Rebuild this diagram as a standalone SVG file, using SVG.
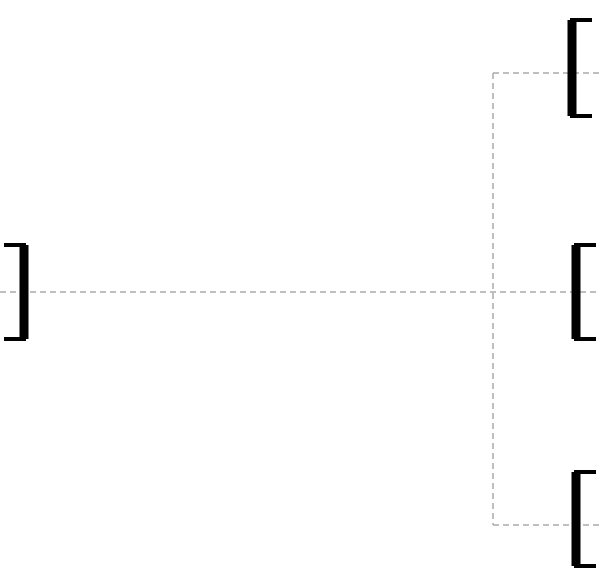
<svg xmlns="http://www.w3.org/2000/svg" width="600" height="583" viewBox="0 0 600 583">
<style>
.c{fill:none;stroke:#aaa;stroke-width:1.5;stroke-dasharray:6,4}
.b{fill:none;stroke:#000;stroke-width:4}
.v{stroke:#000;stroke-width:9}
</style>
<rect width="600" height="583" fill="#fff"/>
<g id="connectors">
<path class="c" d="M0 292H600"/>
<path class="c" d="M493 73V525"/>
<path class="c" d="M493 73H600"/>
<path class="c" d="M493 525H600"/>
</g>
<g id="left"><path class="b" d="M4 245H24V339H4"/><path class="v" d="M24 245V339"/></g>
<g id="top"><path class="b" d="M592 20H572V116H592"/><path class="v" d="M572 20V116"/></g>
<g id="mid"><path class="b" d="M596 245H576V339H596"/><path class="v" d="M576 245V339"/></g>
<g id="bottom"><path class="b" d="M596 472H576V566H596"/><path class="v" d="M576 472V566"/></g>
</svg>
